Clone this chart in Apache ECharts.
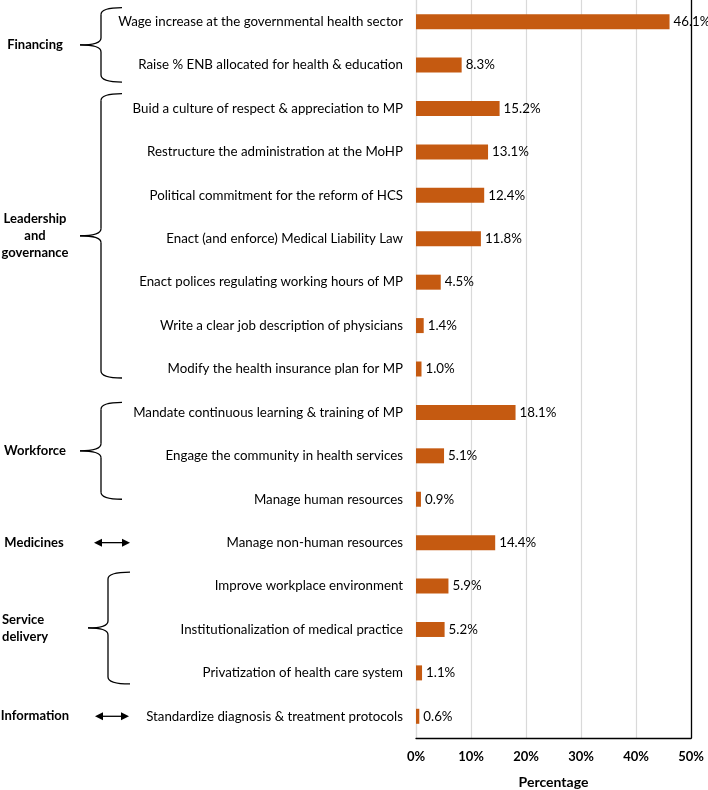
<!DOCTYPE html>
<html>
<head>
<meta charset="utf-8">
<script src="https://cdn.jsdelivr.net/npm/echarts@6/dist/echarts.min.js"></script>
<style>
  html, body { margin: 0; padding: 0; background: #fff; }
  #chart { width: 708px; height: 790px; }
</style>
</head>
<body>
<div id="chart"></div>
<script>
// ---- Data ----
const categories = [
  'Wage increase at the governmental health sector',
  'Raise % ENB allocated for health & education',
  'Buid a culture of respect & appreciation to MP',
  'Restructure the administration at the MoHP',
  'Political commitment for the reform of HCS',
  'Enact (and enforce) Medical Liability Law',
  'Enact polices regulating working hours of MP',
  'Write a clear job description of physicians',
  'Modify the health insurance plan for MP',
  'Mandate continuous learning & training of MP',
  'Engage the community in health services',
  'Manage human resources',
  'Manage non-human resources',
  'Improve workplace environment',
  'Institutionalization of medical practice',
  'Privatization of health care system',
  'Standardize diagnosis & treatment protocols'
];
const percentages = [46.1, 8.3, 15.2, 13.1, 12.4, 11.8, 4.5, 1.4, 1.0, 18.1, 5.1, 0.9, 14.4, 5.9, 5.2, 1.1, 0.6];
const xTicks = [0, 10, 20, 30, 40, 50];
const xAxisTitle = 'Percentage';
const groupNames = ['Financing', 'Leadership\nand\ngovernance', 'Workforce', 'Medicines', 'Service\ndelivery', 'Information'];
const groupStart = [0, 2, 9, 12, 13, 16];
const groupEnd   = [1, 8, 11, 12, 15, 16];

// ---- Layout (styling only) ----
const FONT = 'Lato, "Open Sans", sans-serif';
const groupLayout = [
  { kind: 'brace', labelX: 35, align: 'center', bx: 101, tipX: 80, hookX: 122, topOff: -14, botOff: 17 },
  { kind: 'brace', labelX: 35, align: 'center', bx: 101, tipX: 80, hookX: 122, topOff: -15, botOff: 9 },
  { kind: 'brace', labelX: 35, align: 'center', bx: 101, tipX: 80, hookX: 122, topOff: -10, botOff: 0 },
  { kind: 'arrow', labelX: 34, align: 'center', ax1: 94, ax2: 130 },
  { kind: 'brace', labelX: 2, align: 'left', bx: 108, tipX: 88, hookX: 130, topOff: -14, botOff: 11 },
  { kind: 'arrow', labelX: 35, align: 'center', ax1: 95, ax2: 129 }
];

const chart = echarts.init(document.getElementById('chart'), null, { renderer: 'canvas' });

const option = {
  animation: false,
  backgroundColor: '#fff',
  grid: { left: 416, right: 17, top: 0, bottom: 52, containLabel: false, outerBoundsMode: 'none' },
  xAxis: {
    type: 'value',
    min: 0, max: 50, interval: 10,
    axisLine: { show: true, lineStyle: { color: '#000', width: 1.3 } },
    axisTick: { show: false },
    splitLine: { show: true, lineStyle: { color: '#D9D9D9', width: 1.2 } },
    axisLabel: {
      margin: 12,
      fontFamily: FONT, fontSize: 13, fontWeight: 'bold', color: '#000',
      formatter: v => (xTicks.indexOf(v) >= 0 ? v + '%' : '')
    },
    name: xAxisTitle,
    nameLocation: 'middle',
    nameGap: 37,
    nameTextStyle: { fontFamily: FONT, fontSize: 14, fontWeight: 'bold', color: '#000' }
  },
  yAxis: [
    {
      type: 'category',
      data: categories,
      inverse: true,
      axisLine: { show: true, lineStyle: { color: '#D9D9D9', width: 1.2 } },
      axisTick: { show: false },
      axisLabel: { margin: 13, fontFamily: FONT, fontSize: 13.3, color: '#000' }
    },
    {
      type: 'category',
      data: categories,
      inverse: true,
      position: 'right',
      axisLine: { show: true, lineStyle: { color: '#000', width: 1.3 } },
      axisTick: { show: false },
      axisLabel: { show: false }
    }
  ],
  series: [{
    type: 'bar',
    data: percentages,
    barWidth: 15,
    itemStyle: { color: '#C55A11' },
    label: {
      show: true,
      position: 'right',
      distance: 4,
      fontFamily: FONT, fontSize: 13.3, color: '#000',
      formatter: p => p.value.toFixed(1) + '%'
    }
  }]
};
chart.setOption(option);

// ---- Group annotations (positions derived from the category axis) ----
function yOf(i) { return chart.convertToPixel({ yAxisIndex: 0 }, categories[i]); }

const strokeStyle = { fill: null, stroke: '#000', lineWidth: 1.3 };
const graphics = [];
groupNames.forEach((name, g) => {
  const L = groupLayout[g];
  const y1 = yOf(groupStart[g]), y2 = yOf(groupEnd[g]);
  let midY;
  if (L.kind === 'brace') {
    const top = y1 + L.topOff, bot = y2 + L.botOff;
    midY = (top + bot) / 2;
    const r = 7;
    graphics.push({ type: 'bezierCurve', shape: { x1: L.hookX, y1: top, x2: L.bx, y2: top + r, cpx1: L.bx, cpy1: top }, style: strokeStyle });
    graphics.push({ type: 'line', shape: { x1: L.bx, y1: top + r, x2: L.bx, y2: midY - r }, style: strokeStyle });
    graphics.push({ type: 'bezierCurve', shape: { x1: L.bx, y1: midY - r, x2: L.tipX, y2: midY, cpx1: L.bx, cpy1: midY }, style: strokeStyle });
    graphics.push({ type: 'bezierCurve', shape: { x1: L.tipX, y1: midY, x2: L.bx, y2: midY + r, cpx1: L.bx, cpy1: midY }, style: strokeStyle });
    graphics.push({ type: 'line', shape: { x1: L.bx, y1: midY + r, x2: L.bx, y2: bot - r }, style: strokeStyle });
    graphics.push({ type: 'bezierCurve', shape: { x1: L.bx, y1: bot - r, x2: L.hookX, y2: bot, cpx1: L.bx, cpy1: bot }, style: strokeStyle });
  } else {
    midY = y1;
    graphics.push({
      type: 'line',
      shape: { x1: L.ax1 + 6, y1: midY, x2: L.ax2 - 6, y2: midY },
      style: { stroke: '#000', lineWidth: 1.3 }
    });
    graphics.push({
      type: 'polygon',
      shape: { points: [[L.ax1, midY], [L.ax1 + 8, midY - 4], [L.ax1 + 8, midY + 4]] },
      style: { fill: '#000' }
    });
    graphics.push({
      type: 'polygon',
      shape: { points: [[L.ax2, midY], [L.ax2 - 8, midY - 4], [L.ax2 - 8, midY + 4]] },
      style: { fill: '#000' }
    });
  }
  graphics.push({
    type: 'text',
    x: L.labelX,
    y: midY,
    style: {
      text: name,
      fontFamily: FONT, fontSize: 13, fontWeight: 'bold', fill: '#000',
      align: L.align, verticalAlign: 'middle', lineHeight: 17
    }
  });
});
chart.setOption({ graphic: graphics });
</script>
</body>
</html>
